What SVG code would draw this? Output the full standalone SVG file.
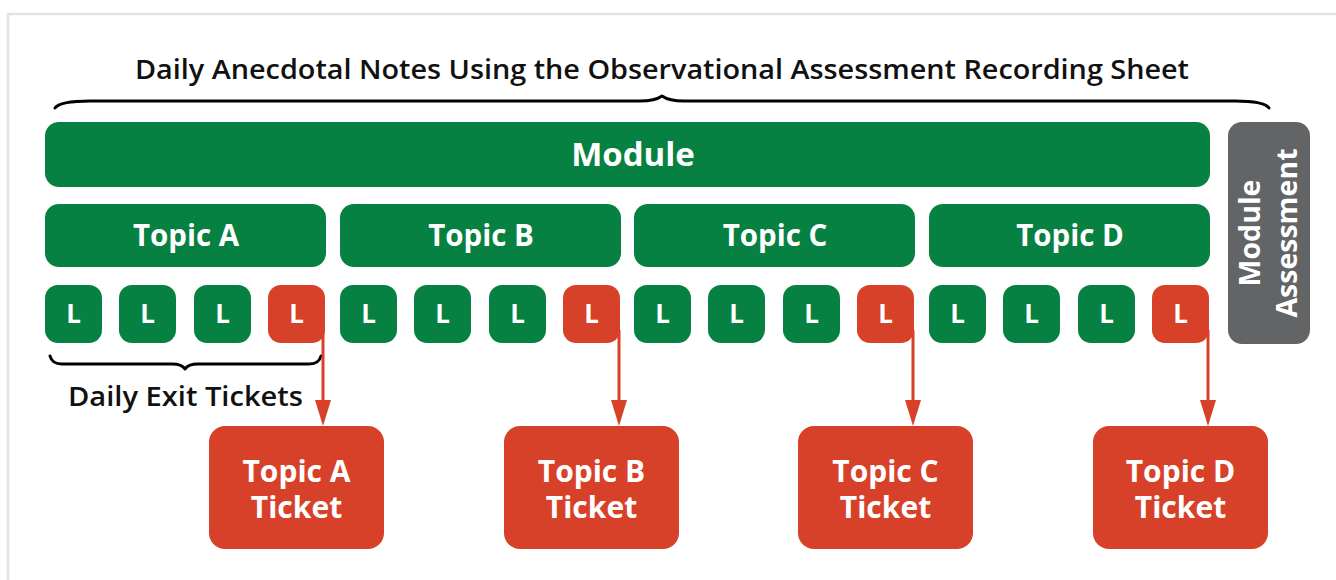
<svg xmlns="http://www.w3.org/2000/svg" width="1336" height="580" viewBox="0 0 1336 580">
<style>
.g{fill:#078141}
.r{fill:#D84129}
.gr{fill:#636466}
.lbl{font-family:"Open Sans","Liberation Sans",sans-serif;font-weight:700;fill:#fff;text-anchor:middle}
.blk{font-family:"Open Sans","Liberation Sans",sans-serif;font-weight:600;fill:#111;text-anchor:middle}
.brace{fill:none;stroke:#000;stroke-width:3;stroke-linecap:round;stroke-linejoin:round}
.conn{stroke:#D84129;stroke-width:3;fill:none}
</style>
<defs>
<marker id="ah" viewBox="0 0 26 16" refX="0" refY="8" markerWidth="26" markerHeight="16" markerUnits="userSpaceOnUse" orient="auto">
<path d="M0,0 L26,8 L0,16 Z" fill="#D84129"/>
</marker>
</defs>
<rect x="0" y="0" width="1336" height="580" fill="#fff"/>
<rect x="8" y="14" width="1340" height="580" fill="none" stroke="#E2E2E2" stroke-width="2.5"/>

<g id="title">
<text class="blk" x="662" y="79" font-size="27" textLength="1054" lengthAdjust="spacingAndGlyphs">Daily Anecdotal Notes Using the Observational Assessment Recording Sheet</text>
<path class="brace" d="M55,108 Q60,101 90,101 L640,101 Q655,101 662,96 Q669,101 684,101 L1235,101 Q1264,101 1269,108"/>
</g>

<g id="module">
<rect class="g" x="45" y="122" width="1165" height="65" rx="14"/>
<text class="lbl" x="633" y="166" font-size="33">Module</text>
</g>

<g id="topic-a"><rect class="g" x="45" y="204" width="281" height="63" rx="14"/><text class="lbl" x="186" y="246" font-size="29.5">Topic A</text></g>
<g id="topic-b"><rect class="g" x="340" y="204" width="281" height="63" rx="14"/><text class="lbl" x="481" y="246" font-size="29.5">Topic B</text></g>
<g id="topic-c"><rect class="g" x="634" y="204" width="281" height="63" rx="14"/><text class="lbl" x="775" y="246" font-size="29.5">Topic C</text></g>
<g id="topic-d"><rect class="g" x="929" y="204" width="281" height="63" rx="14"/><text class="lbl" x="1070" y="246" font-size="29.5">Topic D</text></g>

<g id="lessons-a">
<rect class="g" x="45" y="285" width="57" height="58" rx="13"/><text class="lbl" x="73.5" y="323" font-size="26">L</text>
<rect class="g" x="119" y="285" width="57" height="58" rx="13"/><text class="lbl" x="147.5" y="323" font-size="26">L</text>
<rect class="g" x="194" y="285" width="57" height="58" rx="13"/><text class="lbl" x="222.5" y="323" font-size="26">L</text>
<rect class="r" x="268" y="285" width="57" height="58" rx="13"/><text class="lbl" x="296.5" y="323" font-size="26">L</text>
</g>
<g id="lessons-b">
<rect class="g" x="340" y="285" width="57" height="58" rx="13"/><text class="lbl" x="368.5" y="323" font-size="26">L</text>
<rect class="g" x="414" y="285" width="57" height="58" rx="13"/><text class="lbl" x="442.5" y="323" font-size="26">L</text>
<rect class="g" x="489" y="285" width="57" height="58" rx="13"/><text class="lbl" x="517.5" y="323" font-size="26">L</text>
<rect class="r" x="563" y="285" width="57" height="58" rx="13"/><text class="lbl" x="591.5" y="323" font-size="26">L</text>
</g>
<g id="lessons-c">
<rect class="g" x="634" y="285" width="57" height="58" rx="13"/><text class="lbl" x="662.5" y="323" font-size="26">L</text>
<rect class="g" x="708" y="285" width="57" height="58" rx="13"/><text class="lbl" x="736.5" y="323" font-size="26">L</text>
<rect class="g" x="783" y="285" width="57" height="58" rx="13"/><text class="lbl" x="811.5" y="323" font-size="26">L</text>
<rect class="r" x="857" y="285" width="57" height="58" rx="13"/><text class="lbl" x="885.5" y="323" font-size="26">L</text>
</g>
<g id="lessons-d">
<rect class="g" x="929" y="285" width="57" height="58" rx="13"/><text class="lbl" x="957.5" y="323" font-size="26">L</text>
<rect class="g" x="1003" y="285" width="57" height="58" rx="13"/><text class="lbl" x="1031.5" y="323" font-size="26">L</text>
<rect class="g" x="1078" y="285" width="57" height="58" rx="13"/><text class="lbl" x="1106.5" y="323" font-size="26">L</text>
<rect class="r" x="1152" y="285" width="57" height="58" rx="13"/><text class="lbl" x="1180.5" y="323" font-size="26">L</text>
</g>

<g id="module-assessment">
<rect class="gr" x="1228" y="122" width="82" height="222" rx="14"/>
<text class="lbl" font-size="28.5" transform="translate(1269,233) rotate(-90)"><tspan x="0" y="-9">Module</tspan><tspan x="0" y="28">Assessment</tspan></text>
</g>

<g id="exit-tickets">
<path class="brace" stroke-width="2.5" d="M50,356 Q52,364 62,364 L172,364 Q182,364 185,369 Q188,364 198,364 L309,364 Q319,364 321,356"/>
<text class="blk" x="185.5" y="406" font-size="27" textLength="235" lengthAdjust="spacingAndGlyphs">Daily Exit Tickets</text>
</g>

<g id="ticket-a"><rect class="r" x="209" y="426" width="175" height="123" rx="16"/><text class="lbl" font-size="30"><tspan x="296.5" y="482">Topic A</tspan><tspan x="296.5" y="518">Ticket</tspan></text></g>
<g id="ticket-b"><rect class="r" x="504" y="426" width="175" height="123" rx="16"/><text class="lbl" font-size="30"><tspan x="591.5" y="482">Topic B</tspan><tspan x="591.5" y="518">Ticket</tspan></text></g>
<g id="ticket-c"><rect class="r" x="798" y="426" width="175" height="123" rx="16"/><text class="lbl" font-size="30"><tspan x="885.5" y="482">Topic C</tspan><tspan x="885.5" y="518">Ticket</tspan></text></g>
<g id="ticket-d"><rect class="r" x="1093" y="426" width="175" height="123" rx="16"/><text class="lbl" font-size="30"><tspan x="1180.5" y="482">Topic D</tspan><tspan x="1180.5" y="518">Ticket</tspan></text></g>

<g id="connectors">
<line class="conn" x1="323" y1="330" x2="323" y2="400" marker-end="url(#ah)"/>
<line class="conn" x1="619" y1="330" x2="619" y2="400" marker-end="url(#ah)"/>
<line class="conn" x1="913" y1="330" x2="913" y2="400" marker-end="url(#ah)"/>
<line class="conn" x1="1208" y1="330" x2="1208" y2="400" marker-end="url(#ah)"/>
</g>
</svg>
